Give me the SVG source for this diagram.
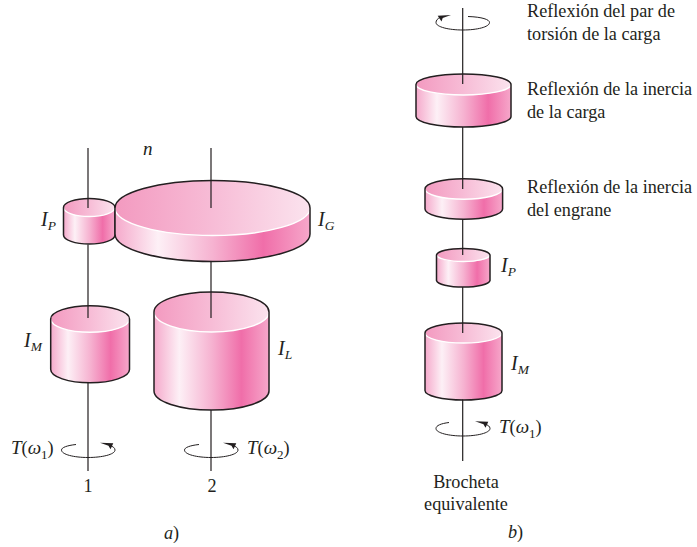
<svg xmlns="http://www.w3.org/2000/svg" width="697" height="547" viewBox="0 0 697 547">
<style>
text{font-family:"Liberation Serif","Times New Roman",serif;font-size:18.2px;fill:#231f20}
.i{font-style:italic}
.l{font-size:19px;font-style:italic}
.m{font-size:20px;font-style:italic}
.s{font-size:13.5px;font-style:italic}
.d{font-size:13px}
.b{fill:url(#body)}
.t{fill:url(#top)}
.r{fill:none;stroke:#fff;stroke-width:1.4}
.o{fill:none;stroke:#231f20;stroke-width:1.5;stroke-linejoin:round}
.sh{fill:none;stroke:#231f20;stroke-width:1.2}
.c{fill:none;stroke:#231f20;stroke-width:1}
.a{fill:#231f20}
</style>
<defs>
<linearGradient id="body" x1="0" y1="0" x2="1" y2="0">
<stop offset="0" stop-color="#f5a9cb"/><stop offset=".22" stop-color="#fdf0f6"/><stop offset=".5" stop-color="#f6b3d1"/><stop offset=".76" stop-color="#f06ea9"/><stop offset="1" stop-color="#f6a7ca"/>
</linearGradient>
<linearGradient id="top" x1="0" y1="0" x2="1" y2="0">
<stop offset="0" stop-color="#f39ac0"/><stop offset=".5" stop-color="#f7bcd6"/><stop offset="1" stop-color="#fbe3ee"/>
</linearGradient>
</defs>

<g id="node-ip-a">
<path class="b" d="M63.5 207.500A25.700 9 0 0 1 115 207.500V235A25.700 9 0 0 1 63.500 235Z"/>
<ellipse class="t" cx="89.200" cy="207.500" rx="25.700" ry="9"/>
<path class="r" d="M63.500 207.500A25.700 9 0 0 0 115 207.500"/>
<path class="o" d="M63.500 207.500A25.700 9 0 0 1 115 207.500V235A25.700 9 0 0 1 63.500 235Z"/>
<text class="m" x="41" y="226">I<tspan class="s" dy="4">P</tspan></text>
</g>
<g id="node-ig-a">
<path class="b" d="M115 208A97.500 27.500 0 0 1 310 208V234A97.500 27.500 0 0 1 115 234Z"/>
<ellipse class="t" cx="212.500" cy="208" rx="97.500" ry="27.500"/>
<path class="r" d="M115 208A97.500 27.500 0 0 0 310 208"/>
<path class="o" d="M115 208A97.500 27.500 0 0 1 310 208V234A97.500 27.500 0 0 1 115 234Z"/>
<text class="m" x="318" y="226">I<tspan class="s" dy="4">G</tspan></text>
</g>
<g id="node-im-a">
<path class="b" d="M50.700 319A39.400 13.300 0 0 1 129.500 319V369.500A39.400 13.300 0 0 1 50.700 369.500Z"/>
<ellipse class="t" cx="90.100" cy="319" rx="39.400" ry="13.300"/>
<path class="r" d="M50.700 319A39.400 13.300 0 0 0 129.500 319"/>
<path class="o" d="M50.700 319A39.400 13.300 0 0 1 129.500 319V369.500A39.400 13.300 0 0 1 50.700 369.500Z"/>
<text class="m" x="24" y="346.500">I<tspan class="s" dy="4">M</tspan></text>
</g>
<g id="node-il-a">
<path class="b" d="M154 312A57.500 20 0 0 1 269 312V391A57.500 19 0 0 1 154 391Z"/>
<ellipse class="t" cx="211.500" cy="312" rx="57.500" ry="20"/>
<path class="r" d="M154 312A57.500 20 0 0 0 269 312"/>
<path class="o" d="M154 312A57.500 20 0 0 1 269 312V391A57.500 19 0 0 1 154 391Z"/>
<text class="m" x="278" y="354.500">I<tspan class="s" dy="4">L</tspan></text>
</g>
<g id="node-load-b">
<path class="b" d="M416 84.500A47.500 10.500 0 0 1 511 84.500V116.500A47.500 10.500 0 0 1 416 116.500Z"/>
<ellipse class="t" cx="463.500" cy="84.500" rx="47.500" ry="10.500"/>
<path class="r" d="M416 84.500A47.500 10.500 0 0 0 511 84.500"/>
<path class="o" d="M416 84.500A47.500 10.500 0 0 1 511 84.500V116.500A47.500 10.500 0 0 1 416 116.500Z"/>
</g>
<g id="node-gear-b">
<path class="b" d="M425 189A38.800 10.300 0 0 1 502.600 189V209A38.800 10.300 0 0 1 425 209Z"/>
<ellipse class="t" cx="463.800" cy="189" rx="38.800" ry="10.300"/>
<path class="r" d="M425 189A38.800 10.300 0 0 0 502.600 189"/>
<path class="o" d="M425 189A38.800 10.300 0 0 1 502.600 189V209A38.800 10.300 0 0 1 425 209Z"/>
</g>
<g id="node-ip-b">
<path class="b" d="M436.500 255A26.800 7 0 0 1 490 255V280.500A26.800 7 0 0 1 436.500 280.500Z"/>
<ellipse class="t" cx="463.300" cy="255" rx="26.800" ry="7"/>
<path class="r" d="M436.500 255A26.800 7 0 0 0 490 255"/>
<path class="o" d="M436.500 255A26.800 7 0 0 1 490 255V280.500A26.800 7 0 0 1 436.500 280.500Z"/>
<text class="m" x="501" y="272">I<tspan class="s" dy="4">P</tspan></text>
</g>
<g id="node-im-b">
<path class="b" d="M425 333A38.500 10 0 0 1 502 333V390.500A38.500 9.500 0 0 1 425 390.500Z"/>
<ellipse class="t" cx="463.500" cy="333" rx="38.500" ry="10"/>
<path class="r" d="M425 333A38.500 10 0 0 0 502 333"/>
<path class="o" d="M425 333A38.500 10 0 0 1 502 333V390.500A38.500 9.500 0 0 1 425 390.500Z"/>
<text class="m" x="511" y="369.500">I<tspan class="s" dy="4">M</tspan></text>
</g>

<g id="connectors">
<path class="sh" d="M88 148V208M88 244.500V318M88 382.500V471M211 148V208M211 261.500V318M211 410V471"/>
<path class="sh" d="M462.700 8V84M462.700 127V189M462.700 219V255M462.700 287V333M462.700 399.500V461"/>
<path class="c" d="M76 444.500C67 445.500 61.500 447.500 61.500 450C61.500 454.500 74 457.500 88 457.500C102 457.500 115 454.500 115 450C115 448 113 446.500 110 445.500"/>
<path class="a" d="M100 442.700L113.300 443.300L110.500 449.200L108.500 445.700Z"/>
<path class="c" d="M199 444.500C190 445.500 184.500 447.500 184.500 450C184.500 454.500 197 457.500 211 457.500C225 457.500 238 454.500 238 450C238 448 236 446.500 233 445.500"/>
<path class="a" d="M223 442.700L236.300 443.300L233.500 449.200L231.500 445.700Z"/>
<path class="c" d="M468 16.500C482 17 489.500 19.500 489.500 22.500C489.500 27 477 30 462.700 30C449 30 436 27 436 22.500C436 20.500 437.500 18.500 440 17.500"/>
<path class="a" d="M451 15L437.700 15.700L441.500 21.500L442.700 18Z"/>
<path class="c" d="M449 422.500C441 423.500 436 425.500 436 428.500C436 433 449 436 463 436C477 436 490 433 490 428.500C490 426.500 488 425 485 424"/>
<path class="a" d="M475 421.200L488.300 421.800L485.500 427.700L483.500 424.200Z"/>
</g>

<g id="labels">
<text class="l" x="143" y="155">n</text>
<text x="11" y="454"><tspan class="l">T</tspan>(<tspan class="l">ω</tspan><tspan class="d" dy="5">1</tspan><tspan dy="-5">)</tspan></text>
<text x="247" y="454"><tspan class="l">T</tspan>(<tspan class="l">ω</tspan><tspan class="d" dy="5">2</tspan><tspan dy="-5">)</tspan></text>
<text x="499" y="433"><tspan class="l">T</tspan>(<tspan class="l">ω</tspan><tspan class="d" dy="5">1</tspan><tspan dy="-5">)</tspan></text>
<text x="88" y="491.500" text-anchor="middle">1</text>
<text x="212" y="491.500" text-anchor="middle">2</text>
<text x="164" y="539"><tspan class="i">a</tspan>)</text>
<text x="508" y="538"><tspan class="i">b</tspan>)</text>
<text x="527" y="17">Reflexión del par de</text>
<text x="527" y="40">torsión de la carga</text>
<text x="527" y="95">Reflexión de la inercia</text>
<text x="527" y="118">de la carga</text>
<text x="527" y="193">Reflexión de la inercia</text>
<text x="527" y="216">del engrane</text>
<text x="466" y="487.500" text-anchor="middle">Brocheta</text>
<text x="466" y="510" text-anchor="middle">equivalente</text>
</g>
</svg>
